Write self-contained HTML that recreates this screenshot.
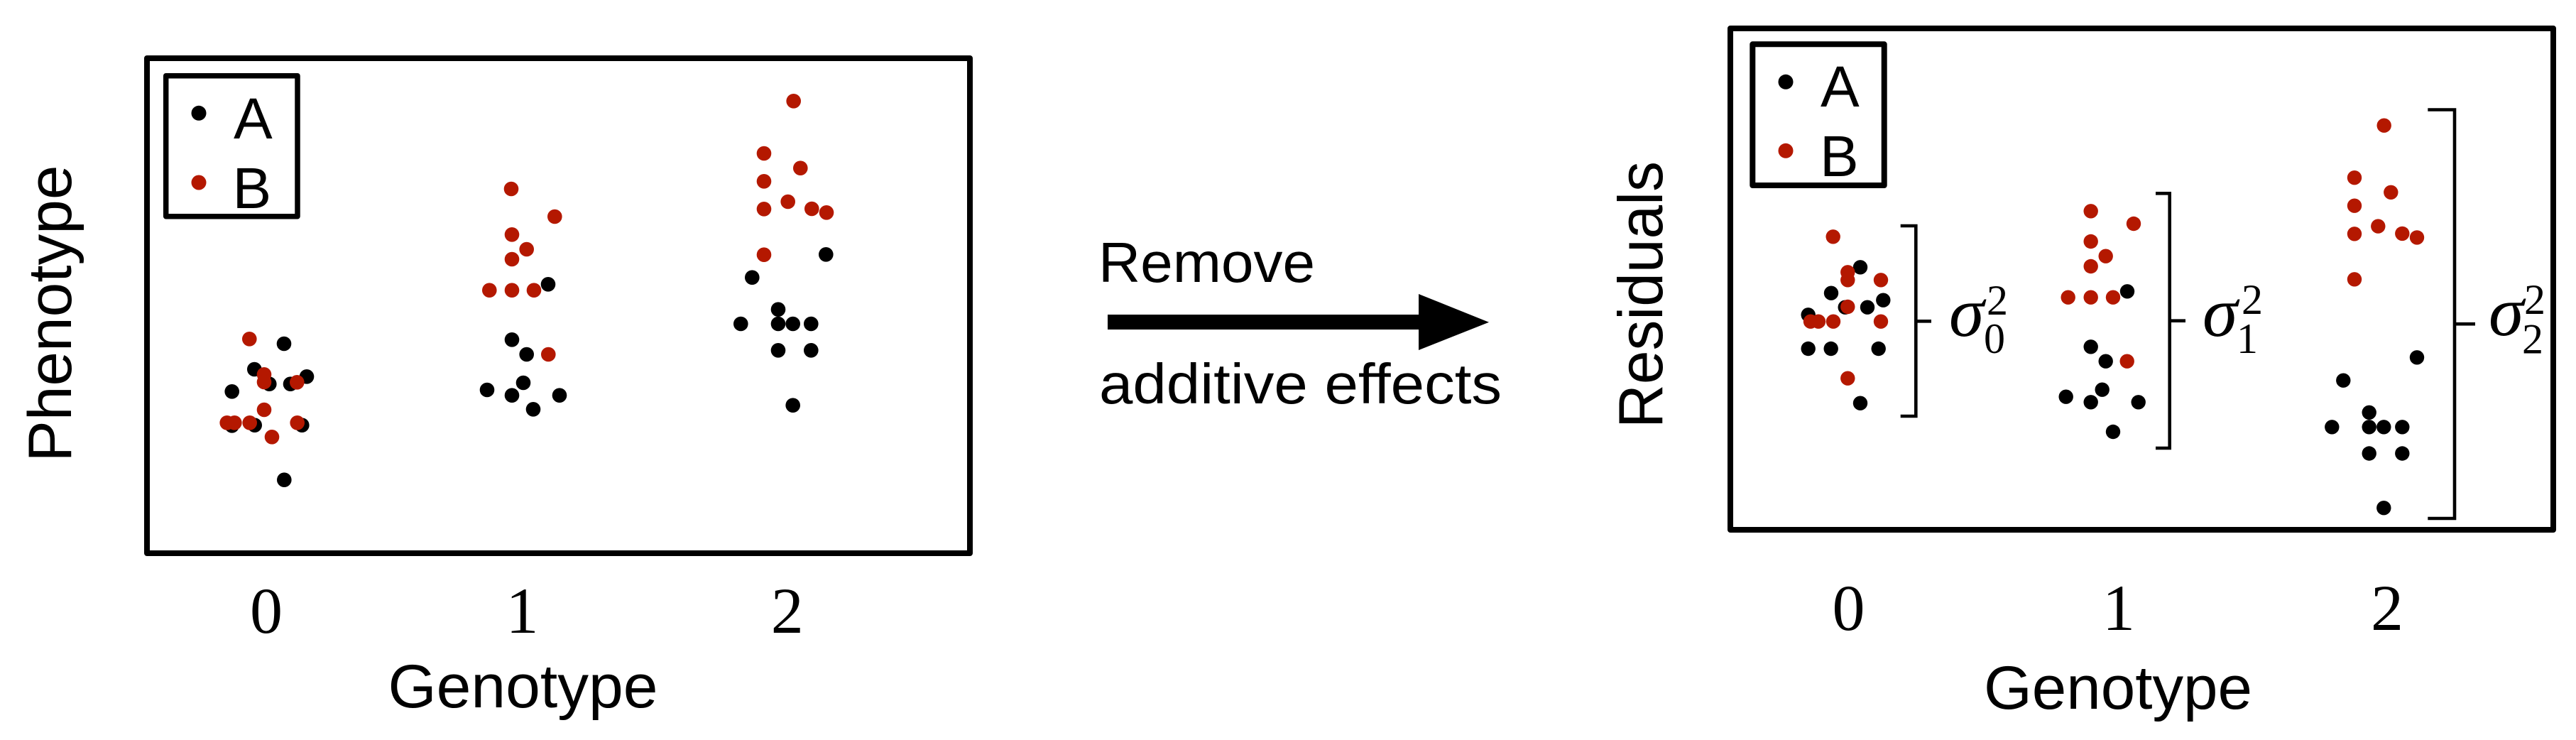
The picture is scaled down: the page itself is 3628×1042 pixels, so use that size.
<!DOCTYPE html>
<html>
<head>
<meta charset="utf-8">
<style>
html,body{margin:0;padding:0;background:#fff;}
svg{display:block;}
.sans{font-family:"Liberation Sans",Arial,Helvetica,sans-serif;}
.serif{font-family:"Liberation Serif","Times New Roman",serif;}
</style>
</head>
<body>
<svg xmlns="http://www.w3.org/2000/svg" width="3628" height="1042" viewBox="0 0 3628 1042">
<rect x="0" y="0" width="3628" height="1042" fill="#fff"/>

<!-- ============ LEFT PANEL ============ -->
<rect x="207" y="82" width="1159" height="697" fill="none" stroke="#000" stroke-width="8" stroke-linejoin="round"/>
<rect x="233.7" y="106.7" width="185.3" height="198" fill="none" stroke="#000" stroke-width="7.5" stroke-linejoin="round"/>
<circle cx="280" cy="159.3" r="10.5" fill="#000"/>
<circle cx="280" cy="257" r="10.5" fill="#b41800"/>
<text class="sans" x="329" y="195" font-size="82" fill="#000">A</text>
<text class="sans" x="327.5" y="293" font-size="82" fill="#000">B</text>

<g fill="#000">
<circle cx="400" cy="484" r="10.3"/>
<circle cx="358.3" cy="520" r="10.3"/>
<circle cx="379.3" cy="540.7" r="10.3"/>
<circle cx="409" cy="540.7" r="10.3"/>
<circle cx="432" cy="530.3" r="10.3"/>
<circle cx="326.7" cy="551.3" r="10.3"/>
<circle cx="326.7" cy="599.3" r="10.3"/>
<circle cx="358.7" cy="598.7" r="10.3"/>
<circle cx="425.3" cy="598.7" r="10.3"/>
<circle cx="400.3" cy="675.7" r="10.3"/>
</g>
<g fill="#b41800">
<circle cx="351.3" cy="477.3" r="10.3"/>
<circle cx="372" cy="527.3" r="10.3"/>
<circle cx="372" cy="538" r="10.3"/>
<circle cx="418.3" cy="538.3" r="10.3"/>
<circle cx="372" cy="577" r="10.3"/>
<circle cx="319.7" cy="595.3" r="10.3"/>
<circle cx="330.3" cy="595.3" r="10.3"/>
<circle cx="351.7" cy="595.3" r="10.3"/>
<circle cx="418.7" cy="595.3" r="10.3"/>
<circle cx="383" cy="615.3" r="10.3"/>
</g>

<!-- group 1 -->
<g fill="#b41800">
<circle cx="720" cy="266" r="10.3"/>
<circle cx="781.3" cy="305" r="10.3"/>
<circle cx="721" cy="330.3" r="10.3"/>
<circle cx="741.7" cy="351" r="10.3"/>
<circle cx="721" cy="365" r="10.3"/>
<circle cx="689.3" cy="408.7" r="10.3"/>
<circle cx="721" cy="408.7" r="10.3"/>
<circle cx="752" cy="408.7" r="10.3"/>
<circle cx="772.3" cy="499" r="10.3"/>
</g>
<g fill="#000">
<circle cx="772" cy="400.3" r="10.3"/>
<circle cx="721" cy="478.3" r="10.3"/>
<circle cx="741.7" cy="499" r="10.3"/>
<circle cx="737" cy="539" r="10.3"/>
<circle cx="686" cy="549" r="10.3"/>
<circle cx="721" cy="556.7" r="10.3"/>
<circle cx="788" cy="556.7" r="10.3"/>
<circle cx="751" cy="576.3" r="10.3"/>
</g>

<!-- group 2 -->
<g fill="#b41800">
<circle cx="1117.7" cy="142.3" r="10.3"/>
<circle cx="1076" cy="216" r="10.3"/>
<circle cx="1127.3" cy="236.7" r="10.3"/>
<circle cx="1076" cy="255.3" r="10.3"/>
<circle cx="1076" cy="294.3" r="10.3"/>
<circle cx="1109.7" cy="284" r="10.3"/>
<circle cx="1143.3" cy="294" r="10.3"/>
<circle cx="1164" cy="299.3" r="10.3"/>
<circle cx="1076" cy="358.7" r="10.3"/>
</g>
<g fill="#000">
<circle cx="1163.3" cy="358.3" r="10.3"/>
<circle cx="1059.3" cy="390.7" r="10.3"/>
<circle cx="1096" cy="435.7" r="10.3"/>
<circle cx="1043.3" cy="456" r="10.3"/>
<circle cx="1096" cy="456" r="10.3"/>
<circle cx="1116.7" cy="456" r="10.3"/>
<circle cx="1142.3" cy="456" r="10.3"/>
<circle cx="1096" cy="493.3" r="10.3"/>
<circle cx="1142.3" cy="493.3" r="10.3"/>
<circle cx="1116.7" cy="570.7" r="10.3"/>
</g>

<text class="serif" x="375" y="891" font-size="92" text-anchor="middle">0</text>
<text class="serif" x="735.5" y="891" font-size="92" text-anchor="middle">1</text>
<text class="serif" x="1108.7" y="891" font-size="92" text-anchor="middle">2</text>
<text class="sans" x="736.5" y="996" font-size="86" text-anchor="middle" textLength="380" lengthAdjust="spacingAndGlyphs">Genotype</text>
<text class="sans" transform="translate(100,441.5) rotate(-90)" x="0" y="0" font-size="86" text-anchor="middle" textLength="418" lengthAdjust="spacingAndGlyphs">Phenotype</text>

<!-- ============ MIDDLE ARROW ============ -->
<text class="sans" x="1547" y="397" font-size="80" textLength="305" lengthAdjust="spacingAndGlyphs">Remove</text>
<rect x="1560" y="443" width="440" height="21" fill="#000"/>
<polygon points="1998,414 2097,453.7 1998,493" fill="#000"/>
<text class="sans" x="1548" y="568" font-size="80" textLength="567" lengthAdjust="spacingAndGlyphs">additive effects</text>

<!-- ============ RIGHT PANEL ============ -->
<rect x="2437" y="40" width="1159" height="706" fill="none" stroke="#000" stroke-width="8" stroke-linejoin="round"/>
<rect x="2468.3" y="62.3" width="185.4" height="198.7" fill="none" stroke="#000" stroke-width="8" stroke-linejoin="round"/>
<circle cx="2515" cy="115.3" r="10.5" fill="#000"/>
<circle cx="2515" cy="212.3" r="10.5" fill="#b41800"/>
<text class="sans" x="2564" y="150" font-size="82" fill="#000">A</text>
<text class="sans" x="2563" y="248" font-size="82" fill="#000">B</text>

<!-- group 0 -->
<g fill="#000">
<circle cx="2620" cy="376.3" r="10.2"/>
<circle cx="2579" cy="412.7" r="10.2"/>
<circle cx="2652.3" cy="422.7" r="10.2"/>
<circle cx="2598.7" cy="432.7" r="10.2"/>
<circle cx="2630" cy="432.7" r="10.2"/>
<circle cx="2546.7" cy="443.3" r="10.2"/>
<circle cx="2546.7" cy="491" r="10.2"/>
<circle cx="2578.7" cy="491" r="10.2"/>
<circle cx="2645.7" cy="491" r="10.2"/>
<circle cx="2620" cy="567.7" r="10.2"/>
</g>
<g fill="#b41800">
<circle cx="2581.7" cy="333.3" r="10.2"/>
<circle cx="2602.3" cy="383.3" r="10.2"/>
<circle cx="2602.3" cy="394.3" r="10.2"/>
<circle cx="2649" cy="394.3" r="10.2"/>
<circle cx="2602.3" cy="432" r="10.2"/>
<circle cx="2550" cy="452.7" r="10.2"/>
<circle cx="2561" cy="452.7" r="10.2"/>
<circle cx="2582" cy="452.7" r="10.2"/>
<circle cx="2649" cy="452.7" r="10.2"/>
<circle cx="2602.3" cy="532.7" r="10.2"/>
</g>

<!-- group 1 -->
<g fill="#b41800">
<circle cx="2944.7" cy="297.3" r="10.2"/>
<circle cx="3005" cy="315" r="10.2"/>
<circle cx="2944.7" cy="340" r="10.2"/>
<circle cx="2965.7" cy="360.7" r="10.2"/>
<circle cx="2944.7" cy="375" r="10.2"/>
<circle cx="2912.7" cy="418.7" r="10.2"/>
<circle cx="2944.7" cy="418.7" r="10.2"/>
<circle cx="2976" cy="418.7" r="10.2"/>
<circle cx="2995.7" cy="508.7" r="10.2"/>
</g>
<g fill="#000">
<circle cx="2996" cy="410.3" r="10.2"/>
<circle cx="2944.7" cy="488.3" r="10.2"/>
<circle cx="2965.7" cy="508.7" r="10.2"/>
<circle cx="2960.7" cy="548.7" r="10.2"/>
<circle cx="2909.7" cy="558.7" r="10.2"/>
<circle cx="2944.7" cy="566.3" r="10.2"/>
<circle cx="3011.7" cy="566.3" r="10.2"/>
<circle cx="2976" cy="608" r="10.2"/>
</g>

<!-- group 2 -->
<g fill="#b41800">
<circle cx="3357.7" cy="176.7" r="10.2"/>
<circle cx="3316" cy="250.2" r="10.2"/>
<circle cx="3367.3" cy="270.8" r="10.2"/>
<circle cx="3316" cy="289.7" r="10.2"/>
<circle cx="3316" cy="329.3" r="10.2"/>
<circle cx="3349.3" cy="318.6" r="10.2"/>
<circle cx="3383.3" cy="328.9" r="10.2"/>
<circle cx="3404" cy="334.4" r="10.2"/>
<circle cx="3316" cy="393.3" r="10.2"/>
</g>
<g fill="#000">
<circle cx="3404" cy="503.3" r="10.2"/>
<circle cx="3300.3" cy="535.7" r="10.2"/>
<circle cx="3336.7" cy="580.8" r="10.2"/>
<circle cx="3284.3" cy="601.3" r="10.2"/>
<circle cx="3336.7" cy="601.3" r="10.2"/>
<circle cx="3357.3" cy="601.3" r="10.2"/>
<circle cx="3383.3" cy="601.3" r="10.2"/>
<circle cx="3336.7" cy="638.5" r="10.2"/>
<circle cx="3383.3" cy="638.5" r="10.2"/>
<circle cx="3357.3" cy="715.2" r="10.2"/>
</g>

<!-- brackets -->
<g fill="none" stroke="#000" stroke-width="4.6" stroke-linejoin="miter">
<path d="M2676.7,318 H2698.3 V586 H2676.7"/>
<path d="M2698.3,452.3 H2720"/>
<path d="M3036,272.3 H3055.7 V631 H3036"/>
<path d="M3055.7,451.7 H3078"/>
<path d="M3419.3,154.5 H3457 V730 H3419.3"/>
<path d="M3457,456.2 H3486"/>
</g>

<!-- sigma labels -->
<text class="serif" x="2745" y="473" font-size="100" font-style="italic">σ</text>
<text class="serif" x="2798" y="443" font-size="60">2</text>
<text class="serif" x="2794" y="497" font-size="60">0</text>

<text class="serif" x="3102" y="473" font-size="100" font-style="italic">σ</text>
<text class="serif" x="3157" y="442" font-size="60">2</text>
<text class="serif" x="3150" y="497" font-size="60">1</text>

<text class="serif" x="3505" y="472" font-size="100" font-style="italic">σ</text>
<text class="serif" x="3555" y="442" font-size="60">2</text>
<text class="serif" x="3552" y="497.5" font-size="60">2</text>

<text class="serif" x="2603.5" y="887" font-size="92" text-anchor="middle">0</text>
<text class="serif" x="2984" y="887" font-size="92" text-anchor="middle">1</text>
<text class="serif" x="3362" y="887" font-size="92" text-anchor="middle">2</text>
<text class="sans" x="2983" y="998" font-size="86" text-anchor="middle" textLength="378" lengthAdjust="spacingAndGlyphs">Genotype</text>
<text class="sans" transform="translate(2341,415) rotate(-90)" x="0" y="0" font-size="88" text-anchor="middle" textLength="376" lengthAdjust="spacingAndGlyphs">Residuals</text>
</svg>
</body>
</html>
